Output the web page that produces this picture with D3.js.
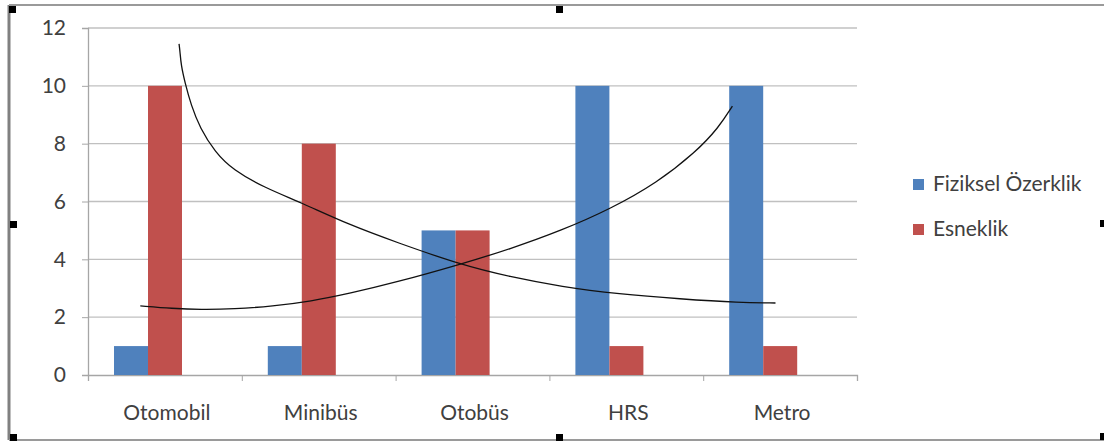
<!DOCTYPE html>
<html><head><meta charset="utf-8">
<script src="https://cdn.jsdelivr.net/npm/d3@7/dist/d3.min.js"></script>
<style>body{margin:0;background:#fff}svg{display:block}text{font-family:Lato,"Open Sans",sans-serif;fill:#404040}</style>
</head><body><svg id="c" width="1104" height="442"></svg>
<script>
const categories = ["Otomobil","Minibüs","Otobüs","HRS","Metro"];
const seriesNames = ["Fiziksel Özerklik","Esneklik"];
const fizikselOzerklik = [1,1,5,10,10];
const esneklik = [10,8,5,1,1];
const yTicks = [0,2,4,6,8,10,12];
const colors = ["#4F81BD","#C0504D"];
// hand-drawn trend curves: [category position (0..5), value]
const curveEsneklik = [[0.592,11.45],[0.598,11.2],[0.605,10.72],[0.631,10.10],[0.670,9.34],[0.728,8.54],[0.826,7.71],[0.943,7.09],[1.151,6.47],[1.378,5.98],[1.70,5.19],[2.00,4.60],[2.43,3.80],[2.74,3.40],[3.08,3.05],[3.45,2.80],[3.85,2.63],[4.24,2.50],[4.47,2.49]];
const curveOzerklik = [[0.34,2.39],[0.55,2.30],[0.73,2.26],[0.95,2.28],[1.20,2.38],[1.45,2.55],[1.70,2.82],[2.00,3.20],[2.43,3.84],[2.74,4.35],[3.08,5.00],[3.40,5.75],[3.70,6.65],[3.95,7.70],[4.10,8.55],[4.19,9.30]];

const svg = d3.select("#c");
const L=88,R=857,T=28,B=375;
const x0 = d3.scaleBand().domain(categories).range([L,R]);
const x1 = d3.scaleBand().domain(seriesNames).range([26,94]);
const xc = d3.scaleLinear().domain([0,5]).range([L,R]);
const y = d3.scaleLinear().domain([0,12]).range([B,T]);

// outer frame
svg.append("line").attr("x1",9).attr("x2",9).attr("y1",5).attr("y2",440).attr("stroke","#808080").attr("stroke-width",3);
svg.append("line").attr("x1",9).attr("x2",1104).attr("y1",5).attr("y2",5).attr("stroke","#9a9a9a").attr("stroke-width",2);
svg.append("line").attr("x1",9).attr("x2",1104).attr("y1",440).attr("y2",440).attr("stroke","#9a9a9a").attr("stroke-width",2);
const handles=[[9,6],[556,6],[10,221],[1100,220],[10,434],[556,434],[1100,433]];
svg.selectAll("rect.h").data(handles).join("rect").attr("class","h").attr("x",d=>d[0]).attr("y",d=>d[1]).attr("width",7).attr("height",7).attr("fill","#000");

// gridlines
svg.append("g").selectAll("line").data(yTicks.filter(t=>t>0)).join("line")
  .attr("x1",L).attr("x2",R).attr("y1",d=>y(d)).attr("y2",d=>y(d)).attr("stroke","#c0c0c0").attr("stroke-width",1.3);

// axes
const ya = svg.append("g").attr("transform",`translate(${L},0)`).call(d3.axisLeft(y).tickValues(yTicks).tickSize(6).tickPadding(16).tickFormat(d3.format("d")));
ya.select(".domain").attr("stroke","#a6a6a6").attr("stroke-width",1.3);
ya.selectAll(".tick line").attr("stroke","#a6a6a6");
ya.selectAll("text").attr("font-size",21).style("fill","#404040").style("font-family","Lato");

const xa = svg.append("g").attr("transform",`translate(0,${B})`).call(d3.axisBottom(xc).tickValues([0,1,2,3,4,5]).tickSize(6).tickFormat(""));
xa.select(".domain").attr("stroke","#a6a6a6").attr("stroke-width",1.3);
xa.selectAll(".tick line").attr("stroke","#a6a6a6");
svg.append("g").selectAll("text").data(categories).join("text")
  .attr("x",d=>x0(d)+x0.bandwidth()/2+2).attr("y",420).attr("text-anchor","middle").attr("font-size",21).text(d=>d);

// bars
const data = categories.map((c,i)=>({c, v:[fizikselOzerklik[i],esneklik[i]]}));
const g = svg.append("g").selectAll("g").data(data).join("g").attr("transform",d=>`translate(${x0(d.c)},0)`);
g.selectAll("rect").data(d=>d.v.map((v,j)=>({s:seriesNames[j],v,j}))).join("rect")
  .attr("x",d=>x1(d.s)).attr("width",x1.bandwidth()).attr("y",d=>y(d.v)).attr("height",d=>B-y(d.v)).attr("fill",d=>colors[d.j]);

// curves
const line = d3.line().x(d=>xc(d[0])).y(d=>y(d[1])).curve(d3.curveBasis);
[curveEsneklik,curveOzerklik].forEach(c=>svg.append("path").attr("d",line(c)).attr("fill","none").attr("stroke","#111").attr("stroke-width",1.3));

// legend
const lg = svg.append("g").selectAll("g").data(seriesNames).join("g").attr("transform",(d,i)=>`translate(913,${179+i*45})`);
lg.append("rect").attr("width",11).attr("height",11).attr("fill",(d,i)=>colors[i]);
lg.append("text").attr("x",20).attr("y",12).attr("font-size",21).text(d=>d);
</script></body></html>
